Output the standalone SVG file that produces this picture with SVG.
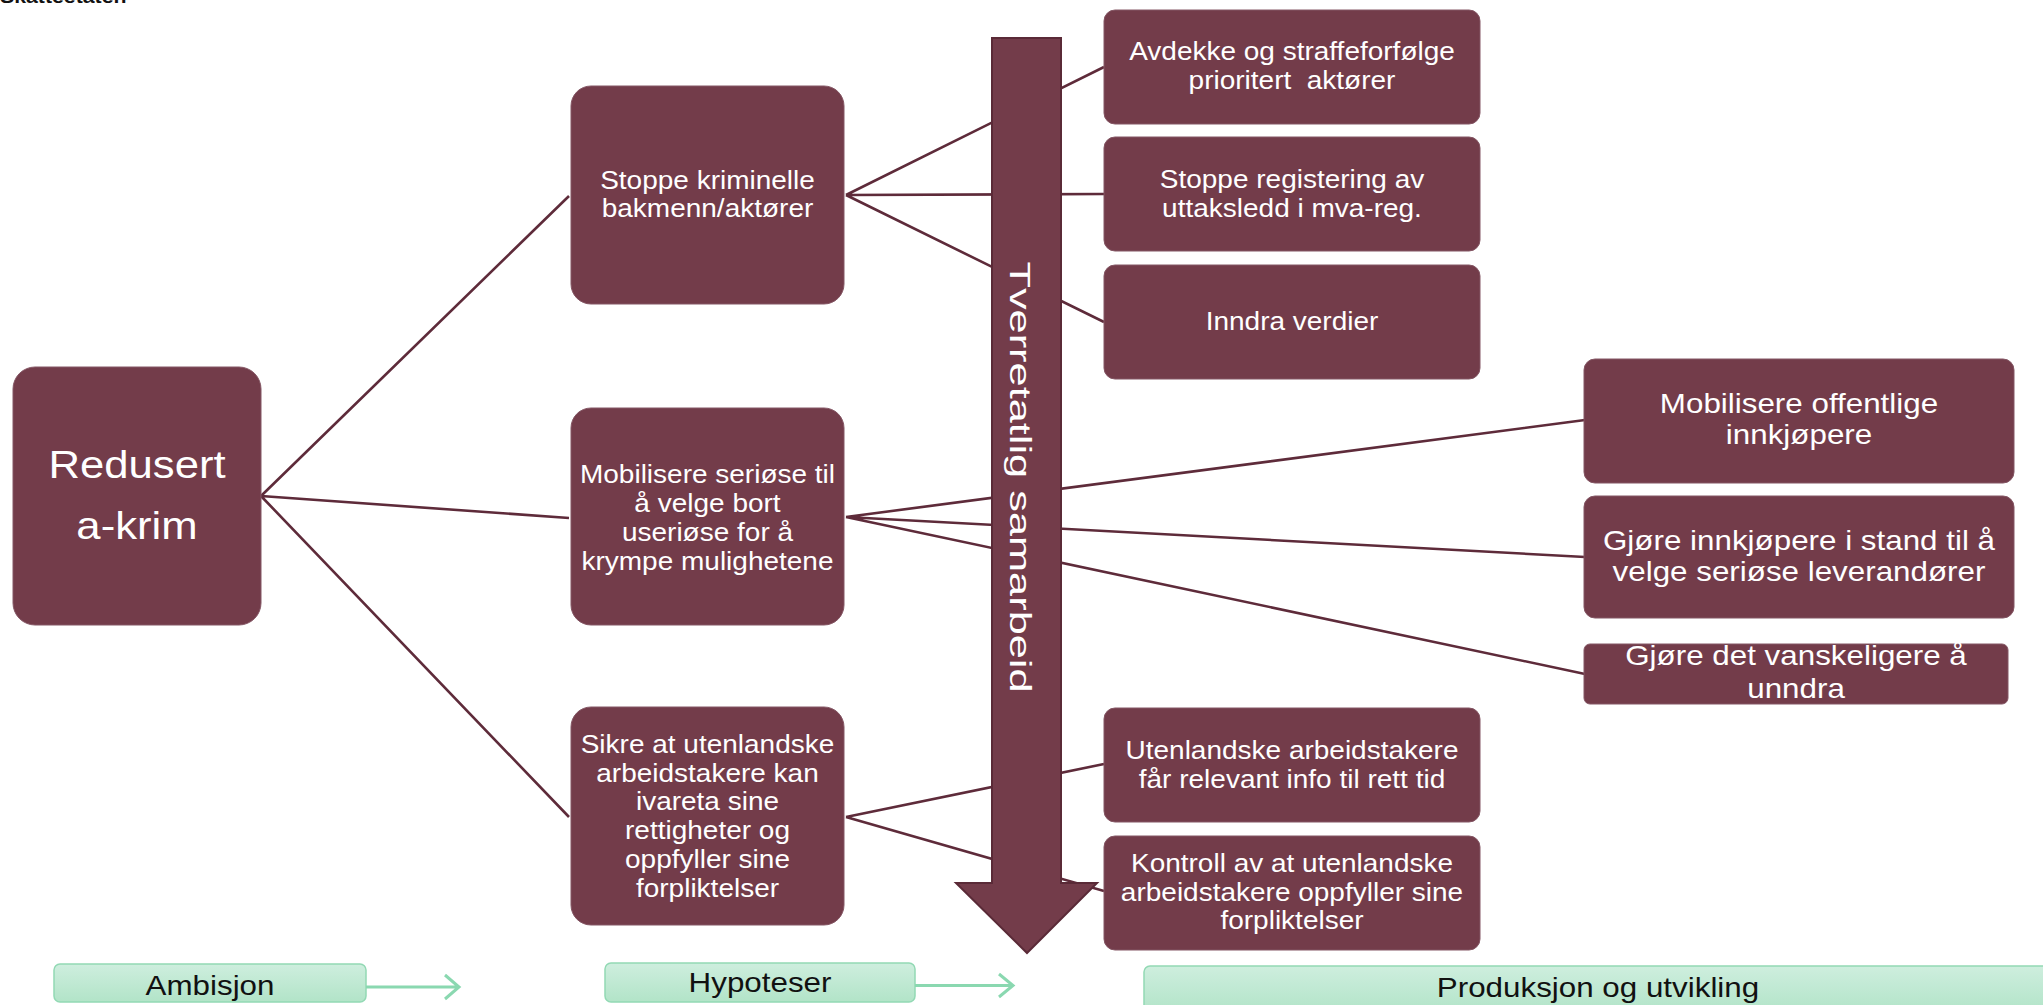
<svg xmlns="http://www.w3.org/2000/svg" width="2043" height="1005" viewBox="0 0 2043 1005">
<defs>
<linearGradient id="gr" x1="0" y1="0" x2="0" y2="1">
<stop offset="0" stop-color="#ceeede"/>
<stop offset="1" stop-color="#b2e4c8"/>
</linearGradient>
<style>
.n{fill:#733c4a;stroke:#845664;stroke-width:1}
.t{font-family:"Liberation Sans",Arial,sans-serif;fill:#fff;text-anchor:middle}
.c{stroke:#5e2b3a;stroke-width:2.6;fill:none}
.g{fill:url(#gr);stroke:#92d9b4;stroke-width:1.5}
.gt{font-family:"Liberation Sans",Arial,sans-serif;fill:#111;text-anchor:middle;font-size:28px}
.ga{stroke:#8ad8b0;stroke-width:3;fill:none}
</style>
</defs>
<rect width="2043" height="1005" fill="#fff"/>
<g transform="translate(0 0) scale(1.12 1)"><text x="0" y="3" font-family="Liberation Sans,Arial,sans-serif" font-weight="bold" font-size="19" fill="#111">Skatteetaten</text></g>

<g id="connectors">
<path class="c" d="M261 496 L569 196 M261 496 L569 518 M261 496 L569 817"/>
<path class="c" d="M846 195 L1104 67 M846 195 L1104 194 M846 195 L1104 322"/>
<path class="c" d="M846 517 L1585 420 M846 517 L1585 557 M846 517 L1585 674"/>
<path class="c" d="M846 817 L1104 764 M846 817 L1104 891"/>
</g>

<g id="arrow">
<polygon points="992,38 1061,38 1061,883 1097,883 1027,953 956,883 992,883" fill="#733c4a" stroke="#5a2a37" stroke-width="2"/>
<g transform="translate(1010 477) rotate(90) scale(1.445 1)"><text class="t" x="0" y="0" font-size="30">Tverretatlig samarbeid</text></g>
</g>

<g id="n-redusert">
<rect class="n" x="13" y="367" width="248" height="258" rx="22"/>
<g transform="translate(137 0) scale(1.12 1)"><text class="t" font-size="39"><tspan x="0" y="478">Redusert</tspan><tspan x="0" y="539">a-krim</tspan></text></g>
</g>

<g id="n-stoppe">
<rect class="n" x="571" y="86" width="273" height="218" rx="20"/>
<g transform="translate(707.5 0) scale(1.12 1)"><text class="t" font-size="25"><tspan x="0" y="189">Stoppe kriminelle</tspan><tspan x="0" y="217">bakmenn/aktører</tspan></text></g>
</g>

<g id="n-mobilisere">
<rect class="n" x="571" y="408" width="273" height="217" rx="20"/>
<g transform="translate(707.5 0) scale(1.12 1)"><text class="t" font-size="25"><tspan x="0" y="483">Mobilisere seriøse til</tspan><tspan x="0" y="512">å velge bort</tspan><tspan x="0" y="541">useriøse for å</tspan><tspan x="0" y="570">krympe mulighetene</tspan></text></g>
</g>

<g id="n-sikre">
<rect class="n" x="571" y="707" width="273" height="218" rx="20"/>
<g transform="translate(707.5 0) scale(1.12 1)"><text class="t" font-size="25"><tspan x="0" y="753">Sikre at utenlandske</tspan><tspan x="0" y="782">arbeidstakere kan</tspan><tspan x="0" y="810">ivareta sine</tspan><tspan x="0" y="839">rettigheter og</tspan><tspan x="0" y="868">oppfyller sine</tspan><tspan x="0" y="897">forpliktelser</tspan></text></g>
</g>

<g id="n-avdekke">
<rect class="n" x="1104" y="10" width="376" height="114" rx="11"/>
<g transform="translate(1292 0) scale(1.12 1)"><text class="t" font-size="25"><tspan x="0" y="60">Avdekke og straffeforfølge</tspan><tspan x="0" y="89" style="white-space:pre" xml:space="preserve">prioritert  aktører</tspan></text></g>
</g>

<g id="n-registering">
<rect class="n" x="1104" y="137" width="376" height="114" rx="11"/>
<g transform="translate(1292 0) scale(1.12 1)"><text class="t" font-size="25"><tspan x="0" y="188">Stoppe registering av</tspan><tspan x="0" y="217">uttaksledd i mva-reg.</tspan></text></g>
</g>

<g id="n-inndra">
<rect class="n" x="1104" y="265" width="376" height="114" rx="11"/>
<g transform="translate(1292 0) scale(1.12 1)"><text class="t" font-size="25"><tspan x="0" y="330">Inndra verdier</tspan></text></g>
</g>

<g id="n-info">
<rect class="n" x="1104" y="708" width="376" height="114" rx="11"/>
<g transform="translate(1292 0) scale(1.12 1)"><text class="t" font-size="25"><tspan x="0" y="759">Utenlandske arbeidstakere</tspan><tspan x="0" y="788">får relevant info til rett tid</tspan></text></g>
</g>

<g id="n-kontroll">
<rect class="n" x="1104" y="836" width="376" height="114" rx="11"/>
<g transform="translate(1292 0) scale(1.12 1)"><text class="t" font-size="25"><tspan x="0" y="872">Kontroll av at utenlandske</tspan><tspan x="0" y="901">arbeidstakere oppfyller sine</tspan><tspan x="0" y="929">forpliktelser</tspan></text></g>
</g>

<g id="n-offentlige">
<rect class="n" x="1584" y="359" width="430" height="124" rx="11"/>
<g transform="translate(1799 0) scale(1.12 1)"><text class="t" font-size="28"><tspan x="0" y="413">Mobilisere offentlige</tspan><tspan x="0" y="444">innkjøpere</tspan></text></g>
</g>

<g id="n-innkjopere">
<rect class="n" x="1584" y="496" width="430" height="122" rx="11"/>
<g transform="translate(1799 0) scale(1.12 1)"><text class="t" font-size="28"><tspan x="0" y="550">Gjøre innkjøpere i stand til å</tspan><tspan x="0" y="581">velge seriøse leverandører</tspan></text></g>
</g>

<g id="n-unndra">
<rect class="n" x="1584" y="644" width="424" height="60" rx="6"/>
<g transform="translate(1796 0) scale(1.12 1)"><text class="t" font-size="28"><tspan x="0" y="665">Gjøre det vanskeligere å</tspan><tspan x="0" y="698">unndra</tspan></text></g>
</g>

<g id="l-ambisjon">
<rect class="g" x="54" y="964" width="312" height="38" rx="6"/>
<g transform="translate(210 0) scale(1.12 1)"><text class="gt" x="0" y="995">Ambisjon</text></g>
<path class="ga" d="M366 987 L458 987 M445 975 L459 987 L445 999"/>
</g>

<g id="l-hypoteser">
<rect class="g" x="605" y="963" width="310" height="39" rx="6"/>
<g transform="translate(760 0) scale(1.12 1)"><text class="gt" x="0" y="992">Hypoteser</text></g>
<path class="ga" d="M915 985.5 L1012 985.5 M999 974 L1013 985.5 L999 997"/>
</g>

<g id="l-produksjon">
<rect class="g" x="1144" y="966" width="910" height="46" rx="6"/>
<g transform="translate(1598 0) scale(1.12 1)"><text class="gt" x="0" y="997">Produksjon og utvikling</text></g>
</g>
</svg>
